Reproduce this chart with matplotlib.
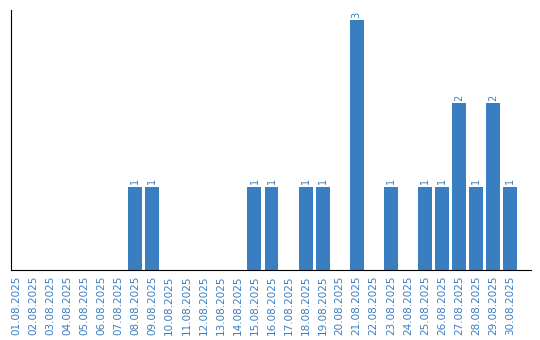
import matplotlib.pyplot as plt
import numpy as np

dates = ['%02d.08.2025' % d for d in range(1, 31)]
counts = [0, 0, 0, 0, 0, 0, 0, 1, 1, 0,
          0, 0, 0, 0, 1, 1, 0, 1, 1, 0,
          3, 0, 1, 0, 1, 1, 2, 1, 2, 1]

color = '#3a7ec2'

fig = plt.figure(figsize=(5.4, 3.4), dpi=100)
ax = fig.add_axes([11 / 540, 70 / 340, 520 / 540, 260 / 340])

x = np.arange(len(dates))
bars = ax.bar(x, counts, width=0.82, color=color)

for xi, c in zip(x, counts):
    if c > 0:
        ax.text(xi, c + 0.03, str(c), rotation=90, ha='center', va='bottom',
                color=color, fontsize=7)

ax.set_xticks(x)
ax.set_xticklabels(dates, rotation=90, fontsize=7.5, color=color)
ax.tick_params(axis='x', length=0, pad=4)
ax.set_yticks([])
ax.set_xlim(-0.29, 30.23)
ax.set_ylim(0, 3.12)
ax.spines['top'].set_visible(False)
ax.spines['right'].set_visible(False)

fig.savefig('out.png', dpi=100)
